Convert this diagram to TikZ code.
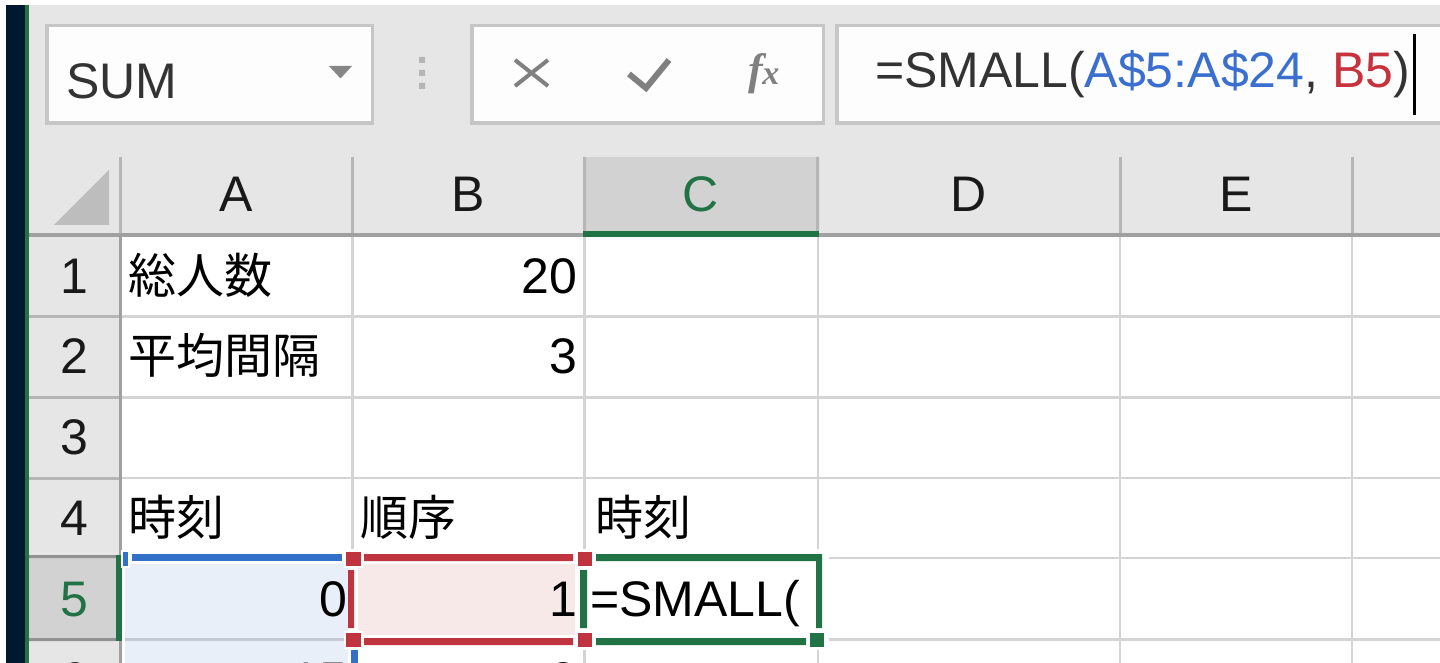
\documentclass[tikz,border=0pt]{standalone}
\usepackage{fontspec}
\setmainfont{Liberation Sans}
\newfontfamily\jp{Noto Sans CJK JP}
\newfontfamily\fxfont{Liberation Serif}
\definecolor{bgray}{HTML}{E6E6E6}
\definecolor{selgray}{HTML}{D2D2D2}
\definecolor{boxborder}{HTML}{C6C6C6}
\definecolor{boxfill}{HTML}{FDFDFD}
\definecolor{darkstrip}{HTML}{001830}
\definecolor{xlgreen}{HTML}{217346}
\definecolor{hdrline}{HTML}{A0A0A0}
\definecolor{sepgray}{HTML}{B6B6B6}
\definecolor{gridc}{HTML}{D4D4D4}
\definecolor{icongray}{HTML}{808080}
\definecolor{tdark}{HTML}{333333}
\definecolor{fblue}{HTML}{3A6FD0}
\definecolor{fred}{HTML}{C8323C}
\definecolor{rblue}{HTML}{3370C8}
\definecolor{rred}{HTML}{C0343F}
\definecolor{bluefill}{HTML}{E8EFF8}
\definecolor{redfill}{HTML}{F8E9E9}
\definecolor{bluegrid}{HTML}{C3CAD4}
\newcommand\fsz{\fontsize{25pt}{25pt}\selectfont}
\newcommand\jsz{\jp\fontsize{24pt}{24pt}\selectfont}
\begin{document}
\begin{tikzpicture}[x=0.5pt,y=-0.5pt,
  txt/.style={inner sep=0pt, outer sep=0pt, font=\fsz, text=black},
  hdr/.style={txt, anchor=base, text=black!90},
  lft/.style={txt, anchor=base west},
  rgt/.style={txt, anchor=base east},
  jtxt/.style={txt, anchor=base west, font=\jsz},
  gridline/.style={draw=gridc, line width=1.25pt},
  handle/.style={draw=white, line width=1.2pt}]
\useasboundingbox (0,0) rectangle (1440,663);
\clip (0,0) rectangle (1440,663);
\fill[white] (0,0) rectangle (1440,663);
% toolbar and header background
\fill[bgray] (6,5) rectangle (1440,237);
\fill[darkstrip] (6,5) rectangle (25,663);
\fill[xlgreen] (25,5) rectangle (29,663);
\fill[bgray] (29,237) rectangle (122,663);
% name box
\draw[boxborder, fill=boxfill, line width=1.75pt] (46.75,25.75) rectangle (372.25,123.25);
\node[lft, text=tdark] (namebox) at (66,99) {SUM};
\fill[icongray!95] (329,66) -- (352,66) -- (340.5,78.5) -- cycle;
\fill[sepgray] (419,57) rectangle (425,63) (419,70) rectangle (425,76) (419,83) rectangle (425,89);
% buttons box
\draw[boxborder, fill=boxfill, line width=1.75pt] (471.75,25.75) rectangle (823.25,123.25);
\draw[icongray, line width=2pt] (515,60) -- (548,86) (548,60) -- (515,86);
\draw[icongray, line width=3pt, line join=miter] (629,74) -- (646,88) -- (669,60);
\node[inner sep=0pt, text=icongray, anchor=base] (fx) at (764,85) {\fxfont\bfseries\itshape\fontsize{22pt}{22pt}\selectfont f\kern-0.5pt{\fontsize{17pt}{17pt}\selectfont x}};
% formula box
\draw[boxborder, fill=boxfill, line width=1.75pt] (836.75,25.75) rectangle (1450,123.25);
\node[lft, text=tdark] (formula) at (875,88) {=SMALL(\textcolor{fblue}{A\$5:A\$24}, \textcolor{fred}{B5})};
\fill[black] (1413,34) rectangle (1416,115);
% column header
\fill[hdrline] (29,233) rectangle (1440,237.5);
\fill[sepgray!90] (109,170) -- (109,225) -- (54,225) -- cycle;
\fill[selgray] (584,157) rectangle (818,231);
\fill[sepgray] (583,157) rectangle (586,231) (816,157) rectangle (819,231);
\fill[xlgreen] (583,231) rectangle (819,237.5);
\foreach \xx in {352,1120,1352} {\fill[sepgray] (\xx-1,157) rectangle (\xx+1.5,233);}
\fill[sepgray] (119,157) rectangle (122,233);
\node[hdr] (colA) at (236,212) {A};
\node[hdr] (colB) at (468,212) {B};
\node[hdr, text=xlgreen] (colC) at (701,212) {C};
\node[hdr] (colD) at (969,212) {D};
\node[hdr] (colE) at (1236,212) {E};
% row header
\fill[hdrline] (119,237) rectangle (122,663);
\foreach \yy in {316.5,397.5,478} {\fill[sepgray] (29,\yy-1.5) rectangle (119,\yy+1.5);}
\fill[selgray] (29,557) rectangle (116,639);
\fill[sepgray!80!black] (29,555) rectangle (116,558) (29,638) rectangle (116,641);
\fill[xlgreen] (116,555) rectangle (122,641);
\node[hdr] (row1) at (74.5,293) {1};
\node[hdr] (row2) at (74.5,373.5) {2};
\node[hdr] (row3) at (74.5,454) {3};
\node[hdr] (row4) at (74.5,535) {4};
\node[hdr, text=xlgreen] (row5) at (74.5,616) {5};
\node[hdr] (row6) at (74.5,697) {6};
% grid
\foreach \yy in {316.5,397.5,478,558,639.5} {\draw[gridline] (122,\yy) -- (1440,\yy);}
\foreach \xx in {352.5,584.5,818,1120,1352} {\draw[gridline] (\xx,237) -- (\xx,663);}
% active region cleanup
\fill[white] (122,549) rectangle (829,650);
\fill[bluefill] (125,564) rectangle (348,663);
\fill[bluegrid] (125,638) rectangle (348,641);
\fill[redfill] (358,564) rectangle (575,635);
% cell texts
\node[jtxt] (a1) at (128,293) {総人数};
\node[rgt] (b1) at (577,293) {20};
\node[jtxt] (a2) at (128,373.5) {平均間隔};
\node[rgt] (b2) at (577,373.5) {3};
\node[jtxt] (a4) at (128,535) {時刻};
\node[jtxt] (b4) at (360,535) {順序};
\node[jtxt] (c4) at (595,535) {時刻};
\node[rgt] (a5) at (347,616) {0};
\node[rgt] (b5) at (577,616) {1};
\node[lft] (c5) at (590,616) {=SMALL(};
\node[rgt] (a6) at (347,697) {15};
\node[rgt] (b6) at (577,697) {2};
% blue range A5:A24
\fill[rblue] (132,554) rectangle (342,561);
\fill[rblue] (351,650) rectangle (358,663);
\filldraw[handle, fill=rblue] (122,551) rectangle (129,567);
% red range B5
\fill[rred] (364,554) rectangle (573,561) (364,638) rectangle (573,645) (348,570) rectangle (354,628);
\filldraw[handle, fill=rred] (345,551) rectangle (362,567);
\filldraw[handle, fill=rred] (577,551) rectangle (593,567);
\filldraw[handle, fill=rred] (345,632) rectangle (362,648);
\filldraw[handle, fill=rred] (577,632) rectangle (593,648);
% green active cell C5
\fill[xlgreen] (596,554) rectangle (822,561) (816,554) rectangle (822,628) (596,638) rectangle (806,645) (580,570) rectangle (587,628);
\filldraw[handle, fill=xlgreen] (809,632) rectangle (825,648);
\end{tikzpicture}
\end{document}
